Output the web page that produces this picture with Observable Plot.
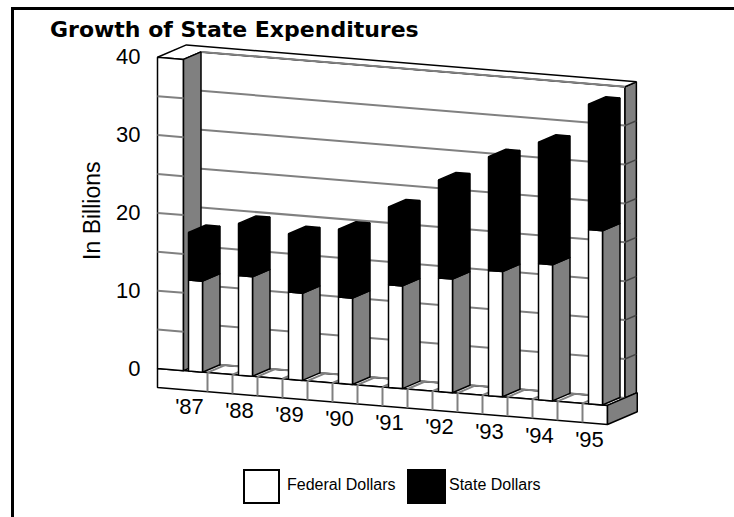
<!DOCTYPE html>
<html><head><meta charset="utf-8">
<script src="https://cdn.jsdelivr.net/npm/d3@7"></script>
<script src="https://cdn.jsdelivr.net/npm/@observablehq/plot@0.6"></script>
<style>
body{margin:0;background:#fff;}
#wrap{position:relative;width:734px;height:517px;overflow:hidden;background:#fff;font-family:"Liberation Sans",Arial,sans-serif;color:#000;}
#frame{position:absolute;left:11px;top:7px;width:900px;height:700px;border-top:3px solid #000;border-left:3px solid #000;}
#title{position:absolute;left:50px;top:19px;font-family:"DejaVu Sans",sans-serif;font-weight:bold;font-size:22px;line-height:22px;white-space:nowrap;}
#chart{position:absolute;left:0;top:40px;}
.sw{position:absolute;top:469px;width:33px;height:31px;border:2px solid #000;}
.lt{position:absolute;top:476px;font-size:16px;line-height:18px;white-space:nowrap;}
</style></head>
<body><div id="wrap">
<div id="frame"></div>
<div id="title">Growth of State Expenditures</div>
<div id="chart"></div>
<div class="sw" style="left:243px;background:#fff"></div><div class="lt" style="left:287px">Federal Dollars</div>
<div class="sw" style="left:407px;background:#000;width:35px"></div><div class="lt" style="left:449px">State Dollars</div>
</div>
<script>
// ---- data (billions of dollars) ----
const years = ["'87", "'88", "'89", "'90", "'91", "'92", "'93", "'94", "'95"];
const federal = [11.7, 12.8, 11.2, 11.1, 13.2, 14.6, 16.1, 17.5, 22.4];
const state   = [6.1, 6.7, 7.5, 8.7, 10.0, 12.6, 14.6, 15.6, 16.1];
const yTicks = [0, 10, 20, 30, 40];
const yLabel = "In Billions";

// ---- oblique 3-D projection into the plot's x/y data space ----
const VMAX = 40, NCAT = years.length;
const DX = 0.35, DY = 0.964, SL = 0.527;   // depth offsets and floor slope
const P = (u, v, d) => ({X: u + DX * d, Y: v - SL * u + DY * d});
let pid = 0;
function poly(arr, pts) { const id = pid++; for (const [u, v, d] of pts) arr.push({id, ...P(u, v, d)}); }
function seg(arr, a, b) { const p = P(...a), q = P(...b); arr.push({x1: p.X, y1: p.Y, x2: q.X, y2: q.Y}); }

const WALL = 0.52, BACK = 1.65, FLOOR = -2.45, FLOORD = 1.7;
const gridVals = d3.range(0, VMAX + 1, 5);

const floorTop = []; poly(floorTop, [[0,0,0],[NCAT,0,0],[NCAT,0,1],[0,0,1]]);
const backFront = []; poly(backFront, [[0,0,1],[NCAT,0,1],[NCAT,VMAX,1],[0,VMAX,1]]);
const backSide = []; poly(backSide, [[NCAT,0,1],[NCAT,0,BACK],[NCAT,VMAX,BACK],[NCAT,VMAX,1]]);
const topFace = []; poly(topFace, [[0,VMAX,0],[0,VMAX,BACK],[NCAT,VMAX,BACK],[NCAT,VMAX,1],[WALL,VMAX,1],[WALL,VMAX,0]]);
const backGrid = []; gridVals.forEach(v => seg(backGrid, [WALL,v,1], [NCAT,v,1]));
const sideGrid = []; gridVals.slice(1, -1).forEach(v => seg(sideGrid, [NCAT,v,1], [NCAT,v,BACK]));
const floorFront = []; poly(floorFront, [[0,FLOOR,0],[NCAT,FLOOR,0],[NCAT,0,0],[0,0,0]]);
const floorSide = []; poly(floorSide, [[NCAT,FLOOR,0],[NCAT,FLOOR,FLOORD],[NCAT,0,FLOORD],[NCAT,0,0]]);
const floorLines = [];
d3.range(1, NCAT, 0.5).forEach(u => { seg(floorLines, [u,FLOOR,0], [u,0,0]); seg(floorLines, [u,0,0], [u,0,1]); });
const leftFront = []; poly(leftFront, [[0,0,0],[WALL,0,0],[WALL,VMAX,0],[0,VMAX,0]]);
const leftSide = []; poly(leftSide, [[WALL,0,0],[WALL,0,1],[WALL,VMAX,1],[WALL,VMAX,0]]);
const leftGrid = []; gridVals.slice(1, -1).forEach(v => seg(leftGrid, [0,v,0], [WALL,v,0]));
const BU = 0.62, BW = 0.28;
const fedFront = [], fedSide = [], stateFaces = [];
years.forEach((yr, i) => {
  const u0 = BU + i, u1 = u0 + BW, f = federal[i], t = federal[i] + state[i];
  poly(fedSide,  [[u1,0,0],[u1,0,1],[u1,f,1],[u1,f,0]]);
  poly(fedFront, [[u0,0,0],[u1,0,0],[u1,f,0],[u0,f,0]]);
  poly(stateFaces, [[u1,f,0],[u1,f,1],[u1,t,1],[u1,t,0]]);
  poly(stateFaces, [[u0,f,0],[u1,f,0],[u1,t,0],[u0,t,0]]);
  poly(stateFaces, [[u0,t,0],[u1,t,0],[u1,t,1],[u0,t,1]]);
});
const tickRows = yTicks.map(v => ({v, ...P(0, v, 0)}));
const yearRows = years.map((yr, i) => ({yr, ...P(BU + 0.02 + i, -4.6, 0)}));
const labelRow = [{t: yLabel, ...P(-1.3, 19.6, 0)}];

const GRAY = "#808080";
const face = (data, fill) => Plot.line(data, {x: "X", y: "Y", z: "id", fill, stroke: "black", strokeWidth: 1.5, curve: "linear-closed", strokeLinejoin: "miter"});
const links = (data, stroke, w) => Plot.link(data, {x1: "x1", y1: "y1", x2: "x2", y2: "y2", stroke, strokeWidth: w});

const chart = Plot.plot({
  width: 734, height: 420,
  marginLeft: 0, marginRight: 0, marginTop: 0, marginBottom: 0,
  style: {background: "transparent", fontFamily: "'Liberation Sans', Arial, sans-serif", color: "black"},
  x: {domain: [0, 9], range: [157, 607], axis: null},
  y: {domain: [0, 40], range: [328, 16.8], axis: null},
  marks: [
    face(floorTop, "white"),
    face(backFront, "white"),
    face(backSide, GRAY),
    face(topFace, "white"),
    links(backGrid, GRAY, 2),
    links(sideGrid, "#444", 1.5),
    face(floorFront, "white"),
    face(floorSide, GRAY),
    links(floorLines, GRAY, 2),
    face(leftFront, "white"),
    face(leftSide, GRAY),
    links(leftGrid, GRAY, 2),
    face(fedSide, GRAY),
    face(fedFront, "white"),
    face(stateFaces, "black"),
    Plot.text(tickRows, {x: "X", y: "Y", text: d => String(d.v), textAnchor: "end", dx: -17, fontSize: 22, fill: "black", ariaLabel: "ytick"}),
    Plot.text(yearRows, {x: "X", y: "Y", text: "yr", fontSize: 22, fill: "black", ariaLabel: "xtick"}),
    Plot.text(labelRow, {x: "X", y: "Y", text: "t", rotate: -90, fontSize: 23, fill: "black", ariaLabel: "ylabel"})
  ]
});
d3.select(chart).selectAll('g[aria-label="ytick"] text, g[aria-label="ylabel"] text').style("letter-spacing", "1px");
document.getElementById("chart").appendChild(chart);
</script>
</body></html>
